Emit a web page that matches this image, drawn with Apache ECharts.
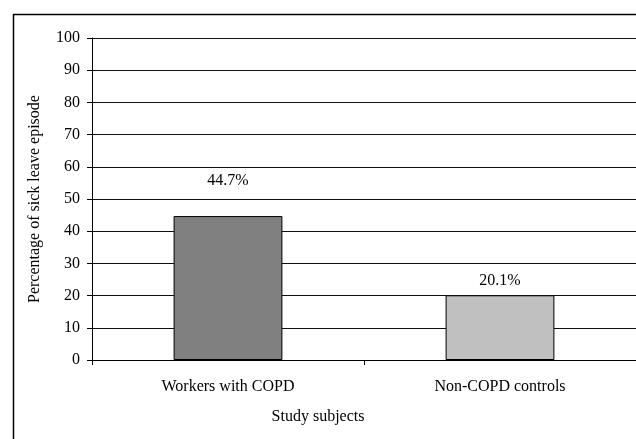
<!DOCTYPE html>
<html><head><meta charset="utf-8">
<script src="https://cdn.jsdelivr.net/npm/echarts@6/dist/echarts.min.js"></script>
<style>html,body{margin:0;padding:0;background:#fff}#c{width:636px;height:439px}</style>
</head><body><div id="c"></div>
<script>
const categories = ['Workers with COPD', 'Non-COPD controls'];
const values = [44.7, 20.1];
const valueLabels = ['44.7%', '20.1%'];
const yTicks = [0, 10, 20, 30, 40, 50, 60, 70, 80, 90, 100];
const xAxisName = 'Study subjects';
const yAxisName = 'Percentage of sick leave episode';

const barColors = ['#808080', '#c0c0c0'];
const labelGaps = [27, 6];
const font = 'Liberation Serif, Times New Roman, serif';
const fs = 16;

const chart = echarts.init(document.getElementById('c'));
chart.setOption({
  animation: false,
  grid: { left: 92, top: 38, right: -3, bottom: 79 },
  graphic: [{
    type: 'rect', left: 11, top: 12, z: 100,
    shape: { width: 800, height: 600 },
    style: { fill: 'none', stroke: '#000', lineWidth: 1.5 }
  }, {
    type: 'text', left: 'center', top: 409,
    style: { text: xAxisName, font: fs + 'px ' + font, fill: '#000' }
  }],
  xAxis: {
    type: 'category', data: categories,
    axisLine: { lineStyle: { color: '#000', width: 1 } },
    axisTick: { show: true, alignWithLabel: false, length: 5, lineStyle: { color: '#000' } },
    axisLabel: { color: '#000', fontFamily: font, fontSize: fs, margin: 19 }
  },
  yAxis: {
    type: 'value', min: yTicks[0], max: yTicks[yTicks.length - 1], interval: yTicks[1] - yTicks[0],
    name: yAxisName, nameLocation: 'middle', nameGap: 49,
    nameTextStyle: { color: '#000', fontFamily: font, fontSize: fs },
    axisLine: { show: true, lineStyle: { color: '#000', width: 1 } },
    axisTick: { show: true, length: 5, lineStyle: { color: '#000' } },
    axisLabel: { color: '#000', fontFamily: font, fontSize: fs, margin: 12 },
    splitLine: { show: true, lineStyle: { color: '#111', width: 1 } }
  },
  series: [{
    type: 'bar', barWidth: '40%',
    data: values.map((v, i) => ({
      value: v,
      itemStyle: { color: barColors[i], borderColor: '#000', borderWidth: 1 },
      label: { show: true, position: 'top', distance: labelGaps[i], formatter: valueLabels[i],
               color: '#000', fontFamily: font, fontSize: fs }
    }))
  }]
});
</script></body></html>
